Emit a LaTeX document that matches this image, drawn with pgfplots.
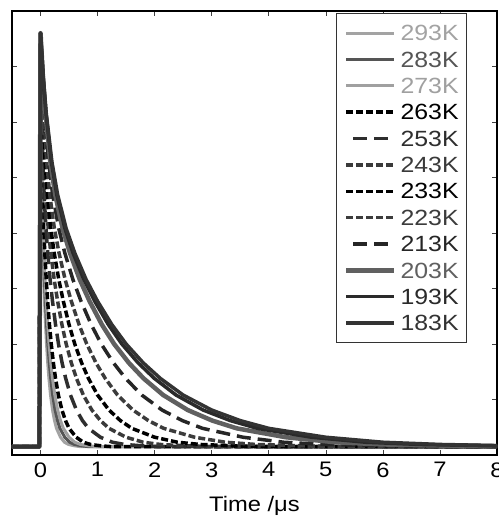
\documentclass[border=0pt]{standalone}
\usepackage{fontspec}
\setmainfont{Liberation Sans}[FakeStretch=1.13]
\usepackage{pgfplots}
\pgfplotsset{compat=1.18}

\definecolor{c293}{HTML}{A3A3A3}
\definecolor{c283}{HTML}{555555}
\definecolor{c273}{HTML}{A0A0A0}
\definecolor{c263}{HTML}{000000}
\definecolor{c253}{HTML}{2E2E2E}
\definecolor{c243}{HTML}{3A3A3A}
\definecolor{c233}{HTML}{000000}
\definecolor{c223}{HTML}{3C3C3C}
\definecolor{c213}{HTML}{262626}
\definecolor{c203}{HTML}{606060}
\definecolor{c193}{HTML}{2A2A2A}
\definecolor{c183}{HTML}{333333}

\begin{document}
\begin{tikzpicture}
\begin{axis}[
    width=485pt, height=444pt, scale only axis,
    xmin=-0.5, xmax=8, ymin=0, ymax=8,
    xtick={0,1,...,8},
    ytick={1,2,...,7}, yticklabels={},
    tick align=inside,
    major tick length=5pt,
    tick style={line width=0.6pt, black!75},
    axis line style={line width=2.5pt},
    /pgf/number format/assume math mode=true,
    xticklabel style={font=\fontsize{21}{21}\selectfont, yshift=-4pt},
    xlabel={Time /μs},
    xlabel style={font=\fontsize{21}{21}\selectfont, at={(axis description cs:0.5,0)}, anchor=north, yshift=-38pt},
    legend style={at={(axis description cs:1,1)}, anchor=north east,
        xshift=-30pt, yshift=-2pt, draw=black!80, line width=0.8pt, fill=white,
        font=\fontsize{22}{22}\selectfont, inner xsep=8pt, inner ysep=12pt,
        row sep=11pt, column sep=4pt,
        nodes={inner sep=0pt, text depth=0pt}},
    legend image code/.code={\draw[#1] (0pt,0pt) -- (48pt,0pt);},
    every axis plot/.append style={line join=round},
]
\coordinate (bl) at (rel axis cs:0,0);
\coordinate (tr) at (rel axis cs:1,1);

\addplot[c293, line width=3pt] coordinates {
(-0.5,0.15)(-0.02,0.15)(0,7.60)(0.004,6.79)(0.007,6.16)(0.014,5.28)(0.021,4.69)(0.032,4.08)(0.042,3.64)(0.056,3.16)(0.07,2.77)(0.088,2.35)(0.105,2.00)(0.126,1.66)(0.147,1.38)(0.175,1.08)(0.21,0.81)(0.245,0.62)(0.28,0.48)(0.35,0.32)(0.42,0.23)(0.49,0.19)(0.595,0.165)(0.70,0.15)(8,0.15)
};
\addlegendentry{\textcolor{c293}{293K}}

\addplot[c283, line width=3pt] coordinates {
(-0.5,0.15)(-0.02,0.15)(0,7.60)(0.004,6.79)(0.009,6.16)(0.017,5.28)(0.026,4.69)(0.038,4.08)(0.051,3.64)(0.068,3.16)(0.085,2.77)(0.106,2.35)(0.128,2.00)(0.153,1.66)(0.179,1.38)(0.213,1.08)(0.255,0.81)(0.298,0.62)(0.34,0.48)(0.425,0.32)(0.51,0.23)(0.595,0.19)(0.723,0.165)(0.85,0.15)(8,0.15)
};
\addlegendentry{\textcolor{c283}{283K}}

\addplot[c273, line width=3pt] coordinates {
(-0.5,0.15)(-0.02,0.15)(0,7.60)(0.005,6.79)(0.01,6.16)(0.02,5.28)(0.03,4.69)(0.045,4.08)(0.06,3.64)(0.08,3.16)(0.1,2.77)(0.125,2.35)(0.15,2.00)(0.18,1.66)(0.21,1.38)(0.25,1.08)(0.3,0.81)(0.35,0.62)(0.4,0.48)(0.5,0.32)(0.6,0.23)(0.7,0.19)(0.85,0.165)(1.0,0.15)(8,0.15)
};
\addlegendentry{\textcolor{c273}{273K}}

\addplot[c263, line width=3.5pt, dash pattern=on 7pt off 3pt] coordinates {
(-0.5,0.15)(-0.02,0.15)(0,7.60)(0.006,6.79)(0.013,6.16)(0.025,5.28)(0.038,4.69)(0.056,4.08)(0.075,3.64)(0.1,3.16)(0.125,2.77)(0.156,2.35)(0.188,2.00)(0.225,1.66)(0.263,1.38)(0.313,1.08)(0.375,0.81)(0.438,0.62)(0.5,0.48)(0.625,0.32)(0.75,0.23)(0.875,0.19)(1.063,0.165)(1.25,0.15)(8,0.15)
};
\addlegendentry{\textcolor{c263}{263K}}

\addplot[c253, line width=3.5pt, dash pattern=on 14pt off 7pt, dash phase=14pt] coordinates {
(-0.5,0.15)(-0.02,0.15)(0,7.60)(0.011,6.79)(0.021,6.16)(0.042,5.28)(0.063,4.69)(0.095,4.08)(0.126,3.64)(0.168,3.16)(0.21,2.77)(0.263,2.35)(0.315,2.00)(0.378,1.66)(0.441,1.38)(0.525,1.08)(0.63,0.81)(0.735,0.62)(0.84,0.48)(1.05,0.32)(1.26,0.23)(1.47,0.19)(1.785,0.165)(2.1,0.15)(8,0.15)
};
\addlegendentry{\textcolor{c253}{253K}}

\addplot[c243, line width=3.5pt, dash pattern=on 7pt off 3pt] coordinates {
(-0.5,0.15)(-0.02,0.15)(0,7.60)(0.015,6.79)(0.03,6.16)(0.06,5.28)(0.09,4.69)(0.135,4.08)(0.18,3.64)(0.24,3.16)(0.3,2.77)(0.375,2.35)(0.45,2.00)(0.54,1.66)(0.63,1.38)(0.75,1.08)(0.9,0.81)(1.05,0.62)(1.2,0.48)(1.5,0.32)(1.8,0.23)(2.1,0.19)(2.55,0.165)(3.0,0.15)(8,0.15)
};
\addlegendentry{\textcolor{c243}{243K}}

\addplot[c233, line width=3.5pt, dash pattern=on 7pt off 3pt] coordinates {
(-0.5,0.15)(-0.02,0.15)(0,7.60)(0.02,6.79)(0.04,6.16)(0.08,5.28)(0.12,4.69)(0.18,4.08)(0.24,3.64)(0.32,3.16)(0.4,2.77)(0.5,2.35)(0.6,2.00)(0.72,1.66)(0.84,1.38)(1.0,1.08)(1.2,0.81)(1.4,0.62)(1.6,0.48)(2.0,0.32)(2.4,0.23)(2.8,0.19)(3.4,0.165)(4.0,0.15)(8,0.15)
};
\addlegendentry{\textcolor{c233}{233K}}

\addplot[c223, line width=3.5pt, dash pattern=on 7pt off 3pt] coordinates {
(-0.5,0.15)(-0.02,0.15)(0,7.60)(0.027,6.79)(0.054,6.16)(0.108,5.28)(0.162,4.69)(0.243,4.08)(0.324,3.64)(0.432,3.16)(0.54,2.77)(0.675,2.35)(0.81,2.00)(0.972,1.66)(1.134,1.38)(1.35,1.08)(1.62,0.81)(1.89,0.62)(2.16,0.48)(2.7,0.32)(3.24,0.23)(3.78,0.19)(4.59,0.165)(5.4,0.15)(8,0.15)
};
\addlegendentry{\textcolor{c223}{223K}}

\addplot[c213, line width=3.5pt, dash pattern=on 14pt off 7pt, dash phase=14pt] coordinates {
(-0.5,0.15)(-0.02,0.15)(0,7.60)(0.036,6.79)(0.071,6.16)(0.142,5.28)(0.213,4.69)(0.32,4.08)(0.426,3.64)(0.568,3.16)(0.71,2.77)(0.888,2.35)(1.065,2.00)(1.278,1.66)(1.491,1.38)(1.775,1.08)(2.13,0.81)(2.485,0.62)(2.84,0.48)(3.55,0.32)(4.26,0.23)(4.97,0.19)(6.035,0.165)(7.1,0.15)(8,0.15)
};
\addlegendentry{\textcolor{c213}{213K}}

\addplot[c203, line width=4.5pt] coordinates {
(-0.5,0.15)(-0.02,0.15)(0,7.60)(0.043,6.79)(0.086,6.16)(0.172,5.28)(0.258,4.69)(0.387,4.08)(0.516,3.64)(0.688,3.16)(0.86,2.77)(1.075,2.35)(1.29,2.00)(1.548,1.66)(1.806,1.38)(2.15,1.08)(2.58,0.81)(3.01,0.62)(3.44,0.48)(4.3,0.32)(5.16,0.23)(6.02,0.19)(7.31,0.165)(8,0.16)
};
\addlegendentry{\textcolor{c203}{203K}}

\addplot[c193, line width=3.5pt] coordinates {
(-0.5,0.15)(-0.02,0.15)(0,7.60)(0.048,6.79)(0.095,6.16)(0.19,5.28)(0.285,4.69)(0.428,4.08)(0.57,3.64)(0.76,3.16)(0.95,2.77)(1.188,2.35)(1.425,2.00)(1.71,1.66)(1.995,1.38)(2.375,1.08)(2.85,0.81)(3.325,0.62)(3.8,0.48)(4.75,0.32)(5.7,0.23)(6.65,0.19)(8,0.165)
};
\addlegendentry{\textcolor{c193}{193K}}

\addplot[c183, line width=3.5pt] coordinates {
(-0.5,0.15)(-0.02,0.15)(0,7.60)(0.05,6.79)(0.1,6.16)(0.2,5.28)(0.3,4.69)(0.45,4.08)(0.6,3.64)(0.8,3.16)(1.0,2.77)(1.25,2.35)(1.5,2.00)(1.8,1.66)(2.1,1.38)(2.5,1.08)(3.0,0.81)(3.5,0.62)(4.0,0.48)(5.0,0.32)(6.0,0.23)(7.0,0.19)(8,0.17)
};
\addlegendentry{\textcolor{c183}{183K}}
\end{axis}
\pgfresetboundingbox
\useasboundingbox ([xshift=-12pt,yshift=-64pt]bl) rectangle ([xshift=2pt,yshift=11pt]tr);
\end{tikzpicture}
\end{document}
